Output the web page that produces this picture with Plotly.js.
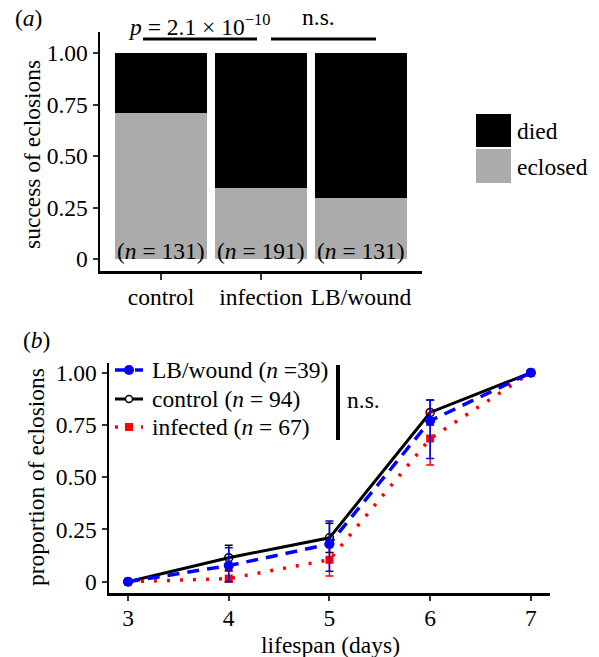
<!DOCTYPE html>
<html>
<head>
<meta charset="utf-8">
<script src="https://cdn.plot.ly/plotly-3.0.1.min.js"></script>
<style>html,body{margin:0;padding:0;background:#fff;}#chart{width:599px;height:657px;}</style>
</head>
<body>
<div id="chart"></div>
<script>
// ---- Panel (a) data ----
var groups = ['control', 'infection', 'LB/wound'];
var eclosed = [0.71, 0.345, 0.298];
var died = [0.29, 0.655, 0.702];
var groupN = ['131', '191', '131'];

// ---- Panel (b) data ----
var days = [3, 4, 5, 6, 7];
var controlVals = [0, 0.115, 0.21, 0.81, 1.0];
var controlErrPlus = [0, 0.06, 0.07, 0.06, 0];
var controlErrMinus = [0, 0.06, 0.07, 0.06, 0];
var lbVals = [0, 0.077, 0.18, 0.77, 1.0];
var lbErrPlus = [0, 0.086, 0.11, 0.10, 0];
var lbErrMinus = [0, 0.077, 0.13, 0.18, 0];
var infVals = [0, 0.015, 0.105, 0.685, 1.0];
var infErrPlus = [0, 0.035, 0.08, 0.125, 0];
var infErrMinus = [0, 0.015, 0.078, 0.127, 0];
var seriesLabels = ['LB/wound (<i>n</i> =39)', 'control (<i>n</i> = 94)', 'infected (<i>n</i> = 67)'];

var W = 599, H = 657;
function px(x) { return x / W; }
function py(y) { return 1 - y / H; }
var FONT = '"Liberation Serif", "Times New Roman", Times, serif';
var FS = 23.5;
var TXT = {family: FONT, size: FS, color: '#000'};

var BLUE = '#0000ff', RED = '#ff0000', BLACK = '#000000';
var blueDash = '12px,8px', redDot = '3px,10px';

var traces = [
  {type: 'bar', x: groups, y: eclosed, marker: {color: '#ababab'}, width: 0.92,
   xaxis: 'x', yaxis: 'y', name: 'eclosed', hoverinfo: 'skip'},
  {type: 'bar', x: groups, y: died, marker: {color: '#000000'}, width: 0.92,
   xaxis: 'x', yaxis: 'y', name: 'died', hoverinfo: 'skip'},
  {type: 'scatter', mode: 'lines+markers', x: days, y: controlVals, name: seriesLabels[1],
   line: {color: BLACK, width: 3},
   marker: {symbol: 'circle-open', size: 8, color: BLACK, line: {width: 1.5}},
   error_y: {type: 'data', symmetric: false, array: controlErrPlus, arrayminus: controlErrMinus,
             color: BLACK, thickness: 1.5, width: 4},
   xaxis: 'x2', yaxis: 'y2'},
  {type: 'scatter', mode: 'lines+markers', x: days, y: infVals, name: seriesLabels[2],
   line: {color: RED, width: 3.5, dash: redDot},
   marker: {symbol: 'square', size: 8, color: RED},
   error_y: {type: 'data', symmetric: false, array: infErrPlus, arrayminus: infErrMinus,
             color: RED, thickness: 1.5, width: 4},
   xaxis: 'x2', yaxis: 'y2'},
  {type: 'scatter', mode: 'lines+markers', x: days, y: lbVals, name: seriesLabels[0],
   line: {color: BLUE, width: 3.5, dash: blueDash},
   marker: {symbol: 'circle', size: 10, color: BLUE},
   error_y: {type: 'data', symmetric: false, array: lbErrPlus, arrayminus: lbErrMinus,
             color: BLUE, thickness: 1.5, width: 4},
   xaxis: 'x2', yaxis: 'y2'}
];

var axisCommon = {
  showline: true, linecolor: '#000', linewidth: 2.5, mirror: false,
  ticks: 'outside', ticklen: 5, tickwidth: 2, tickcolor: '#333',
  showgrid: false, zeroline: false, fixedrange: true,
  tickfont: TXT
};
function ax(extra) { return Object.assign({}, axisCommon, extra); }

function ann(x, y, text, extra) {
  return Object.assign({xref: 'paper', yref: 'paper', x: px(x), y: py(y), xanchor: 'left', yanchor: 'middle',
    text: text, showarrow: false, font: TXT}, extra || {});
}

var annotations = [
  ann(13, 18, '(<i>a</i>)'),
  ann(21, 340, '(<i>b</i>)'),
  ann(199, 25, '<i>p</i> = 2.1 × 10<sup>−10</sup>', {xanchor: 'center'}),
  ann(318, 17, 'n.s.', {xanchor: 'center'}),
  ann(345, 400, 'n.s.'),
  ann(515, 131, 'died'),
  ann(515, 167, 'eclosed'),
  ann(32, 155, 'success of eclosions', {xanchor: 'center', textangle: -90}),
  ann(36, 477, 'proportion of eclosions', {xanchor: 'center', textangle: -90}),
  ann(330, 645, 'lifespan (days)', {xanchor: 'center'})
];
for (var i = 0; i < groups.length; i++) {
  annotations.push({xref: 'x', yref: 'y', x: groups[i], y: 0, yanchor: 'bottom', xanchor: 'center',
    yshift: -7, text: '(<i>n</i> = ' + groupN[i] + ')', showarrow: false, font: TXT});
}

// manual legend for panel (b)
var legRows = [370, 399, 427];
var legColors = [BLUE, BLACK, RED];
var legDash = [blueDash, 'solid', redDot];
var legWidth = [3.5, 3, 3.5];
for (var j = 0; j < 3; j++) {
  annotations.push(ann(150, legRows[j], seriesLabels[j]));
}

var shapes = [
  {type: 'line', xref: 'paper', yref: 'paper', x0: px(143), x1: px(257), y0: py(39), y1: py(39),
   line: {color: '#000', width: 3}},
  {type: 'line', xref: 'paper', yref: 'paper', x0: px(271), x1: px(376), y0: py(39), y1: py(39),
   line: {color: '#000', width: 3}},
  {type: 'line', xref: 'paper', yref: 'paper', x0: px(338), x1: px(338), y0: py(365), y1: py(440),
   line: {color: '#000', width: 4}},
  {type: 'rect', xref: 'paper', yref: 'paper', x0: px(476), x1: px(511), y0: py(114), y1: py(147),
   fillcolor: '#000', line: {width: 0}},
  {type: 'rect', xref: 'paper', yref: 'paper', x0: px(476), x1: px(511), y0: py(149), y1: py(183),
   fillcolor: '#ababab', line: {width: 0}}
];
for (var k = 0; k < 3; k++) {
  shapes.push({type: 'line', xref: 'paper', yref: 'paper', x0: px(115), x1: px(143),
    y0: py(legRows[k]), y1: py(legRows[k]), line: {color: legColors[k], width: legWidth[k], dash: legDash[k]}});
}
// legend keys: filled circle, open circle, square
shapes.push({type: 'circle', xref: 'paper', yref: 'paper', x0: px(124), x1: px(134), y0: py(365), y1: py(375),
  fillcolor: BLUE, line: {width: 0}});
shapes.push({type: 'circle', xref: 'paper', yref: 'paper', x0: px(125.5), x1: px(132.5), y0: py(395.5), y1: py(402.5),
  fillcolor: '#fff', line: {color: BLACK, width: 1.5}});
shapes.push({type: 'rect', xref: 'paper', yref: 'paper', x0: px(125), x1: px(133), y0: py(423), y1: py(431),
  fillcolor: RED, line: {width: 0}});

var layout = {
  width: W, height: H,
  margin: {l: 0, r: 0, t: 0, b: 0, pad: 0},
  paper_bgcolor: '#fff', plot_bgcolor: '#fff',
  barmode: 'stack', bargap: 0.08,
  font: TXT,
  showlegend: false,
  xaxis: ax({domain: [px(100), px(422)], anchor: 'y', type: 'category', range: [-0.61, 2.61], ticklen: 6,
             ticklabelstandoff: -3}),
  yaxis: ax({domain: [py(271), py(32)], anchor: 'x', range: [-0.058, 1.102],
             tickvals: [0, 0.25, 0.5, 0.75, 1], ticktext: ['0', '0.25', '0.50', '0.75', '1.00']}),
  xaxis2: ax({domain: [px(109), px(550)], anchor: 'y2', range: [2.811, 7.19], tickvals: days, ticktext: ['3','4','5','6','7'],
              ticklabelstandoff: -3}),
  yaxis2: ax({domain: [py(593), py(362.7)], anchor: 'x2', range: [-0.054, 1.048],
              tickvals: [0, 0.25, 0.5, 0.75, 1], ticktext: ['0', '0.25', '0.50', '0.75', '1.00']}),
  annotations: annotations,
  shapes: shapes
};

Plotly.newPlot('chart', traces, layout, {displayModeBar: false, staticPlot: true});
</script>
</body>
</html>
